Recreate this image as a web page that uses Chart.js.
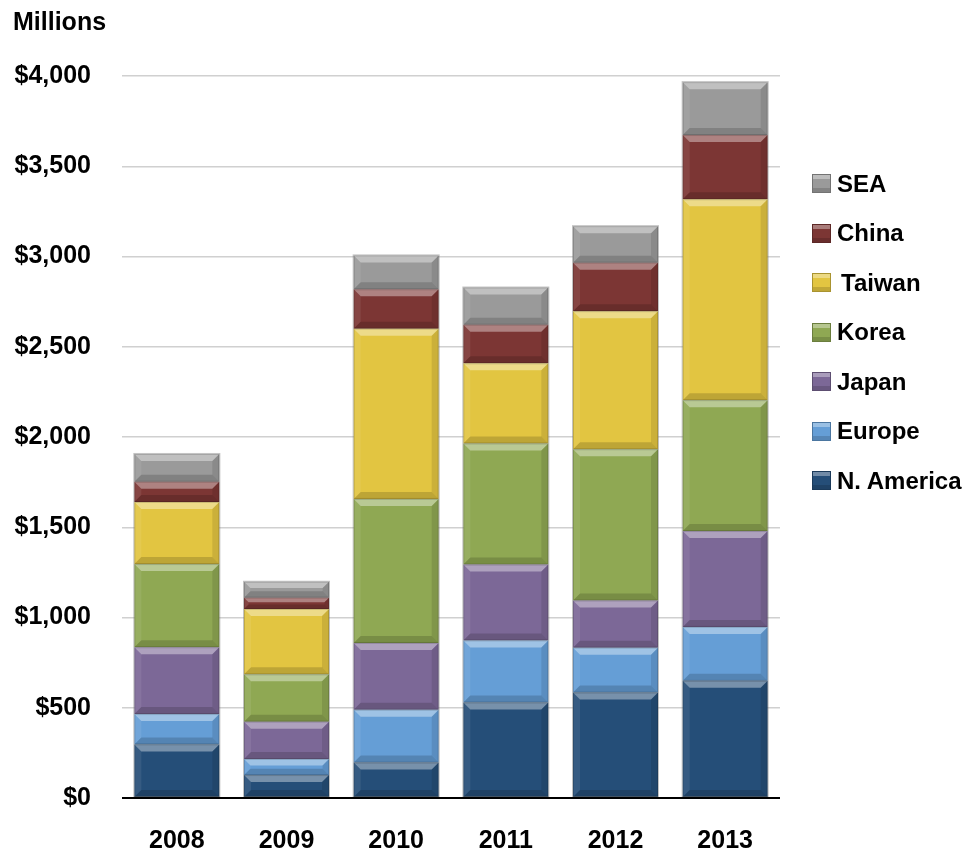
<!DOCTYPE html>
<html>
<head>
<meta charset="utf-8">
<script src="https://cdn.jsdelivr.net/npm/chart.js@4.4.1/dist/chart.umd.min.js"></script>
<style>
  html, body { margin: 0; padding: 0; background: #fff; }
  #wrap { position: relative; width: 963px; height: 854px; }
  #unit {
    position: absolute; left: 13px; top: 7px;
    font: bold 25px "Liberation Sans", Arial, sans-serif; color: #000;
  }
  #legend { position: absolute; left: 812px; top: 159px; }
  .item { display: flex; align-items: center; height: 49.5px;
    font: bold 24px "Liberation Sans", Arial, sans-serif; color: #000; }
  .sw { width: 17px; height: 17px; margin-right: 6px; border: 1px solid rgba(0,0,0,0.25);
    box-shadow: inset 0 4px 0 rgba(255,255,255,0.35), inset 0 -4px 0 rgba(0,0,0,0.15); }
</style>
</head>
<body>
<div id="wrap">
  <canvas id="regionChart" width="963" height="854"></canvas>
  <div id="unit">Millions</div>
  <div id="legend"></div>
</div>
<script>
// 연도별 지역 매출 (백만 달러)
var years = ['2008', '2009', '2010', '2011', '2012', '2013'];
var regions = ['N. America', 'Europe', 'Japan', 'Korea', 'Taiwan', 'China', 'SEA'];
var colors = ['#254e78', '#659ed6', '#7c6897', '#8fa853', '#e2c541', '#7c3634', '#9a9a9a'];

var nAmerica = [297, 127, 196, 529, 584, 649];
var europe   = [168,  89, 293, 344, 249, 299];
var japan    = [370, 207, 370, 420, 261, 531];
var korea    = [461, 262, 798, 671, 838, 725];
var taiwan   = [344, 362, 943, 444, 765, 1113];
var china    = [112,  63, 218, 214, 269, 356];
var sea      = [154,  88, 188, 206, 202, 293];

var yTicks = [0, 500, 1000, 1500, 2000, 2500, 3000, 3500, 4000];

var series = [nAmerica, europe, japan, korea, taiwan, china, sea];
var font = "'Liberation Sans', Arial, sans-serif";

// 막대 가장자리에 입체 느낌(베벨) 그리기
var bevelPlugin = {
  id: 'bevel',
  afterDatasetsDraw: function(chart) {
    var ctx = chart.ctx;
    chart.data.datasets.forEach(function(ds, i) {
      chart.getDatasetMeta(i).data.forEach(function(bar) {
        var p = bar.getProps(['x', 'y', 'base', 'width'], true);
        var l = p.x - p.width / 2, r = p.x + p.width / 2;
        var t = Math.min(p.y, p.base), b = Math.max(p.y, p.base);
        var h = b - t;
        if (h < 2) return;
        var e = Math.min(7, h / 2.5);
        function poly(pts, fill) {
          ctx.beginPath();
          ctx.moveTo(pts[0][0], pts[0][1]);
          for (var k = 1; k < pts.length; k++) ctx.lineTo(pts[k][0], pts[k][1]);
          ctx.closePath();
          ctx.fillStyle = fill;
          ctx.fill();
        }
        ctx.save();
        poly([[l, t], [r, t], [r - e, t + e], [l + e, t + e]], 'rgba(255,255,255,0.38)');
        poly([[l, t], [l + e, t + e], [l + e, b - e], [l, b]], 'rgba(255,255,255,0.08)');
        poly([[r, t], [r - e, t + e], [r - e, b - e], [r, b]], 'rgba(0,0,0,0.10)');
        poly([[l, b], [l + e, b - e], [r - e, b - e], [r, b]], 'rgba(0,0,0,0.16)');
        ctx.strokeStyle = 'rgba(0,0,0,0.15)';
        ctx.lineWidth = 1;
        ctx.strokeRect(l + 0.5, t + 0.5, r - l - 1, h - 1);
        ctx.restore();
      });
    });
    // 막대 전체 바깥 테두리 (연한 회색)
    var first = chart.getDatasetMeta(0).data;
    var last = chart.getDatasetMeta(chart.data.datasets.length - 1).data;
    ctx.save();
    ctx.strokeStyle = 'rgba(120,120,120,0.45)';
    ctx.lineWidth = 1;
    first.forEach(function(bar, j) {
      var p = bar.getProps(['x', 'base', 'width'], true);
      var top = last[j].getProps(['y'], true).y;
      ctx.strokeRect(p.x - p.width / 2 - 0.5, top - 0.5, p.width + 1, p.base - top);
    });
    ctx.restore();
  }
};

var datasets = regions.map(function(name, i) {
  return {
    label: name,
    data: series[i],
    backgroundColor: colors[i],
    borderWidth: 0,
    barPercentage: 0.775,
    categoryPercentage: 1.0
  };
});

new Chart(document.getElementById('regionChart').getContext('2d'), {
  type: 'bar',
  data: { labels: years, datasets: datasets },
  options: {
    responsive: false,
    animation: false,
    layout: { padding: { left: 0, right: 183, top: 76, bottom: 0 } },
    plugins: { legend: { display: false }, tooltip: { enabled: false } },
    scales: {
      x: {
        stacked: true,
        grid: { display: false },
        border: { display: false },
        ticks: { color: '#000', padding: 20, font: { family: font, size: 25, weight: 'bold' } },
        afterFit: function(s) { s.height = 56; }
      },
      y: {
        stacked: true,
        min: 0,
        max: 4000,
        afterBuildTicks: function(s) { s.ticks = yTicks.map(function(v) { return { value: v }; }); },
        border: { display: false },
        grid: {
          drawTicks: false,
          color: function(c) { return c.tick && c.tick.value === 0 ? '#000' : '#d0d0d0'; },
          lineWidth: function(c) { return c.tick && c.tick.value === 0 ? 2 : 1.5; }
        },
        ticks: {
          color: '#000',
          padding: 31,
          font: { family: font, size: 25, weight: 'bold' },
          callback: function(v) { return '$' + v.toLocaleString('en-US'); }
        },
        afterFit: function(s) { s.width = 122; }
      }
    }
  },
  plugins: [bevelPlugin]
});

// 범례: 위에서부터 SEA ... N. America
var legend = document.getElementById('legend');
for (var i = regions.length - 1; i >= 0; i--) {
  var row = document.createElement('div');
  row.className = 'item';
  var sw = document.createElement('span');
  sw.className = 'sw';
  sw.style.background = colors[i];
  var txt = document.createElement('span');
  txt.textContent = regions[i];
  if (regions[i] === 'Taiwan') txt.style.paddingLeft = '4px';
  row.appendChild(sw);
  row.appendChild(txt);
  legend.appendChild(row);
}
</script>
</body>
</html>
